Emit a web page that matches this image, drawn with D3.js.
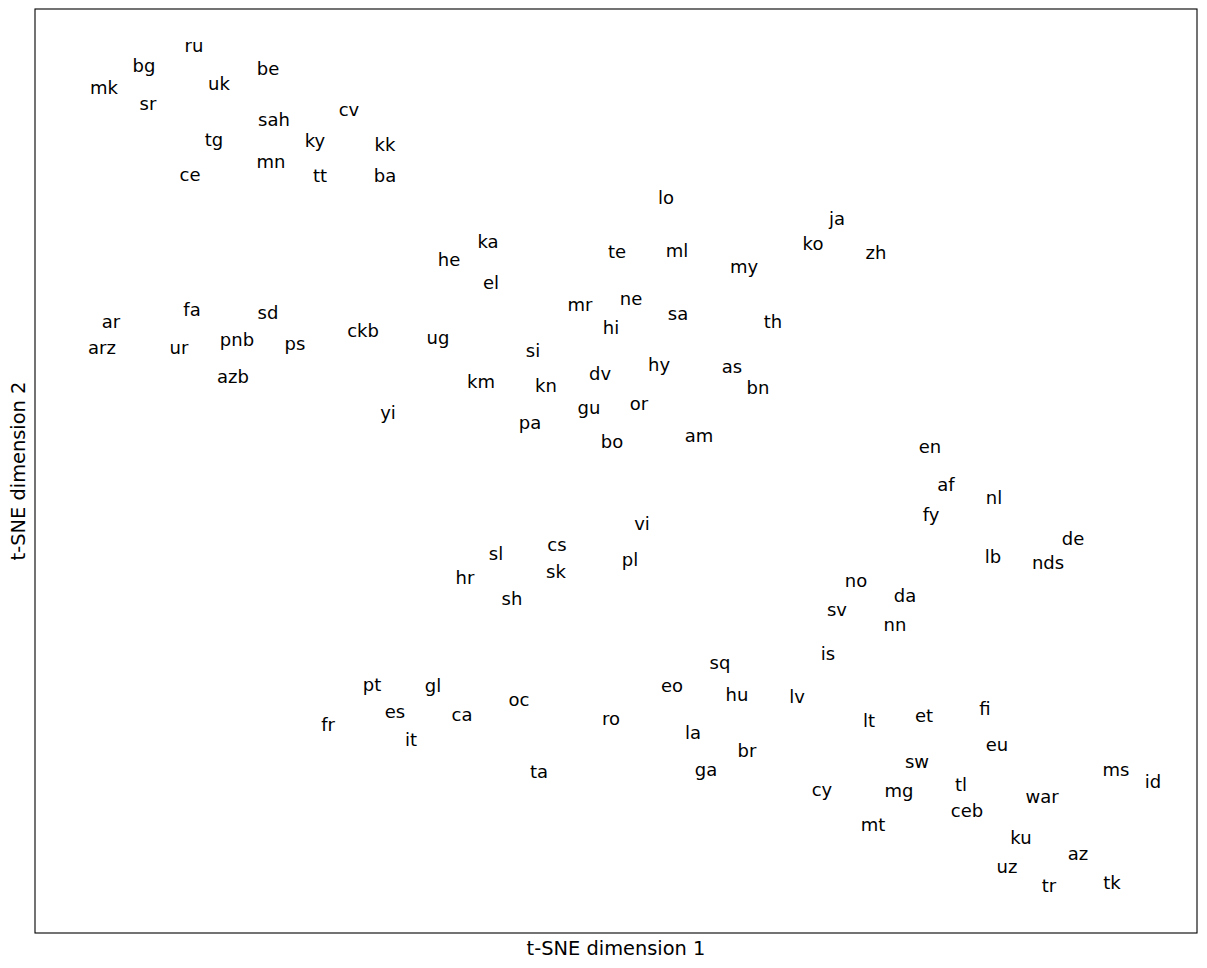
<!DOCTYPE html>
<html>
<head>
<meta charset="utf-8">
<script src="https://cdn.jsdelivr.net/npm/d3@7"></script>
<style>
  body { margin: 0; background: #fff; }
  text { font-family: "DejaVu Sans", sans-serif; }
</style>
</head>
<body>
<script>
// language codes and their 2-D t-SNE embedding
const langs = [
  "ru","bg","mk","sr","uk","be","sah","cv","tg","ky","kk","mn","ce","tt","ba",
  "lo","ja","ko","zh","ka","he","te","ml","my","el","mr","ne","sa","hi","th",
  "ug","si","hy","as","dv","km","kn","bn","or","gu","pa","am","bo",
  "fa","sd","ar","ckb","pnb","ps","arz","ur","azb","yi",
  "en","af","nl","fy","de","lb","nds","no","da","sv","nn","is",
  "vi","cs","sl","pl","sk","hr","sh",
  "sq","pt","gl","eo","oc","hu","lv","es","ca","ro","fr","la","it","br","ta","ga",
  "fi","lt","et","eu","sw","ms","id","tl","cy","mg","war","ceb","mt","ku","az","uz","tr","tk"
];
const tsneX = [
  -42.2,-47.2,-51.2,-46.8,-39.7,-34.8,-34.2,-26.7,-40.2,-30.1,-23.1,-34.5,-42.6,-29.6,-23.1,
  5.0,22.1,19.7,26.0,-12.8,-16.7,0.1,6.1,12.8,-12.5,-3.6,1.5,6.2,-0.5,15.7,
  -17.8,-8.3,4.3,11.6,-1.6,-13.5,-7.0,14.2,2.3,-2.7,-8.6,8.3,-0.4,
  -42.4,-34.8,-50.5,-25.3,-37.9,-32.1,-51.4,-43.7,-38.3,-22.8,
  31.4,33.0,37.8,31.5,45.7,37.7,43.2,24.0,28.9,22.1,27.9,21.2,
  2.6,-5.9,-12.0,1.4,-6.0,-15.1,-10.4,
  10.4,-24.4,-18.3,5.6,-9.7,12.1,18.1,-22.1,-15.4,-0.5,-28.8,7.7,-20.5,13.1,-7.7,9.0,
  36.9,25.3,30.8,38.1,30.1,50.0,53.7,34.5,20.6,28.3,42.6,35.1,25.7,40.5,46.2,39.1,43.3,49.6
];
const tsneY = [
  42.5,40.5,38.3,36.7,38.7,40.2,35.1,36.1,33.1,33.0,32.6,30.9,29.6,29.5,29.5,
  27.3,25.2,22.7,21.8,22.9,21.1,21.9,22.0,20.4,18.8,16.6,17.2,15.7,14.3,14.9,
  13.3,12.0,10.6,10.4,9.7,8.9,8.5,8.3,6.7,6.3,4.8,3.5,2.9,
  16.1,15.8,14.9,14.0,13.1,12.7,12.3,12.3,9.4,5.8,
  2.4,-1.4,-2.7,-4.4,-6.8,-8.6,-9.2,-11.0,-12.5,-13.9,-15.4,-18.3,
  -5.3,-7.4,-8.3,-8.9,-10.1,-10.7,-12.8,
  -19.2,-21.4,-21.5,-21.5,-22.9,-22.4,-22.6,-24.1,-24.4,-24.8,-25.4,-26.2,-26.9,-28.0,-30.1,-29.9,
  -23.8,-25.0,-24.5,-27.4,-29.1,-29.9,-31.1,-31.4,-31.9,-32.0,-32.6,-34.0,-35.4,-36.7,-38.3,-39.6,-41.5,-41.2
];
const xLabel = "t-SNE dimension 1";
const yLabel = "t-SNE dimension 2";

// 画布
const width = 1207, height = 968;
const margin = { left: 35, top: 9, right: 10, bottom: 35 };
const innerW = width - margin.left - margin.right;
const innerH = height - margin.top - margin.bottom;

const svg = d3.select("body").append("svg")
  .attr("width", width).attr("height", height);

const x = d3.scaleLinear().domain([-58.1, 58.1]).range([0, innerW]);
const y = d3.scaleLinear().domain([-46.2, 46.2]).range([innerH, 0]);

const g = svg.append("g")
  .attr("transform", `translate(${margin.left},${margin.top})`);

// 文字标签
const points = langs.map((d, i) => ({ name: d, x: tsneX[i], y: tsneY[i] }));
g.selectAll("text.lang")
  .data(points)
  .enter().append("text")
  .attr("class", "lang")
  .attr("x", d => x(d.x))
  .attr("y", d => y(d.y))
  .attr("dy", 1)
  .attr("text-anchor", "middle")
  .attr("dominant-baseline", "middle")
  .attr("font-size", "18px")
  .attr("fill", "#000")
  .text(d => d.name);

// 边框
g.append("rect")
  .attr("x", 0).attr("y", 0)
  .attr("width", innerW).attr("height", innerH)
  .attr("fill", "none")
  .attr("stroke", "#000")
  .attr("stroke-width", 1.1);

// 坐标轴标题
svg.append("text")
  .attr("x", margin.left + innerW / 2)
  .attr("y", 955)
  .attr("text-anchor", "middle")
  .attr("font-size", "19.4px")
  .text(xLabel);

svg.append("text")
  .attr("transform", `translate(25,${margin.top + innerH / 2}) rotate(-90)`)
  .attr("text-anchor", "middle")
  .attr("font-size", "19.4px")
  .text(yLabel);
</script>
</body>
</html>
